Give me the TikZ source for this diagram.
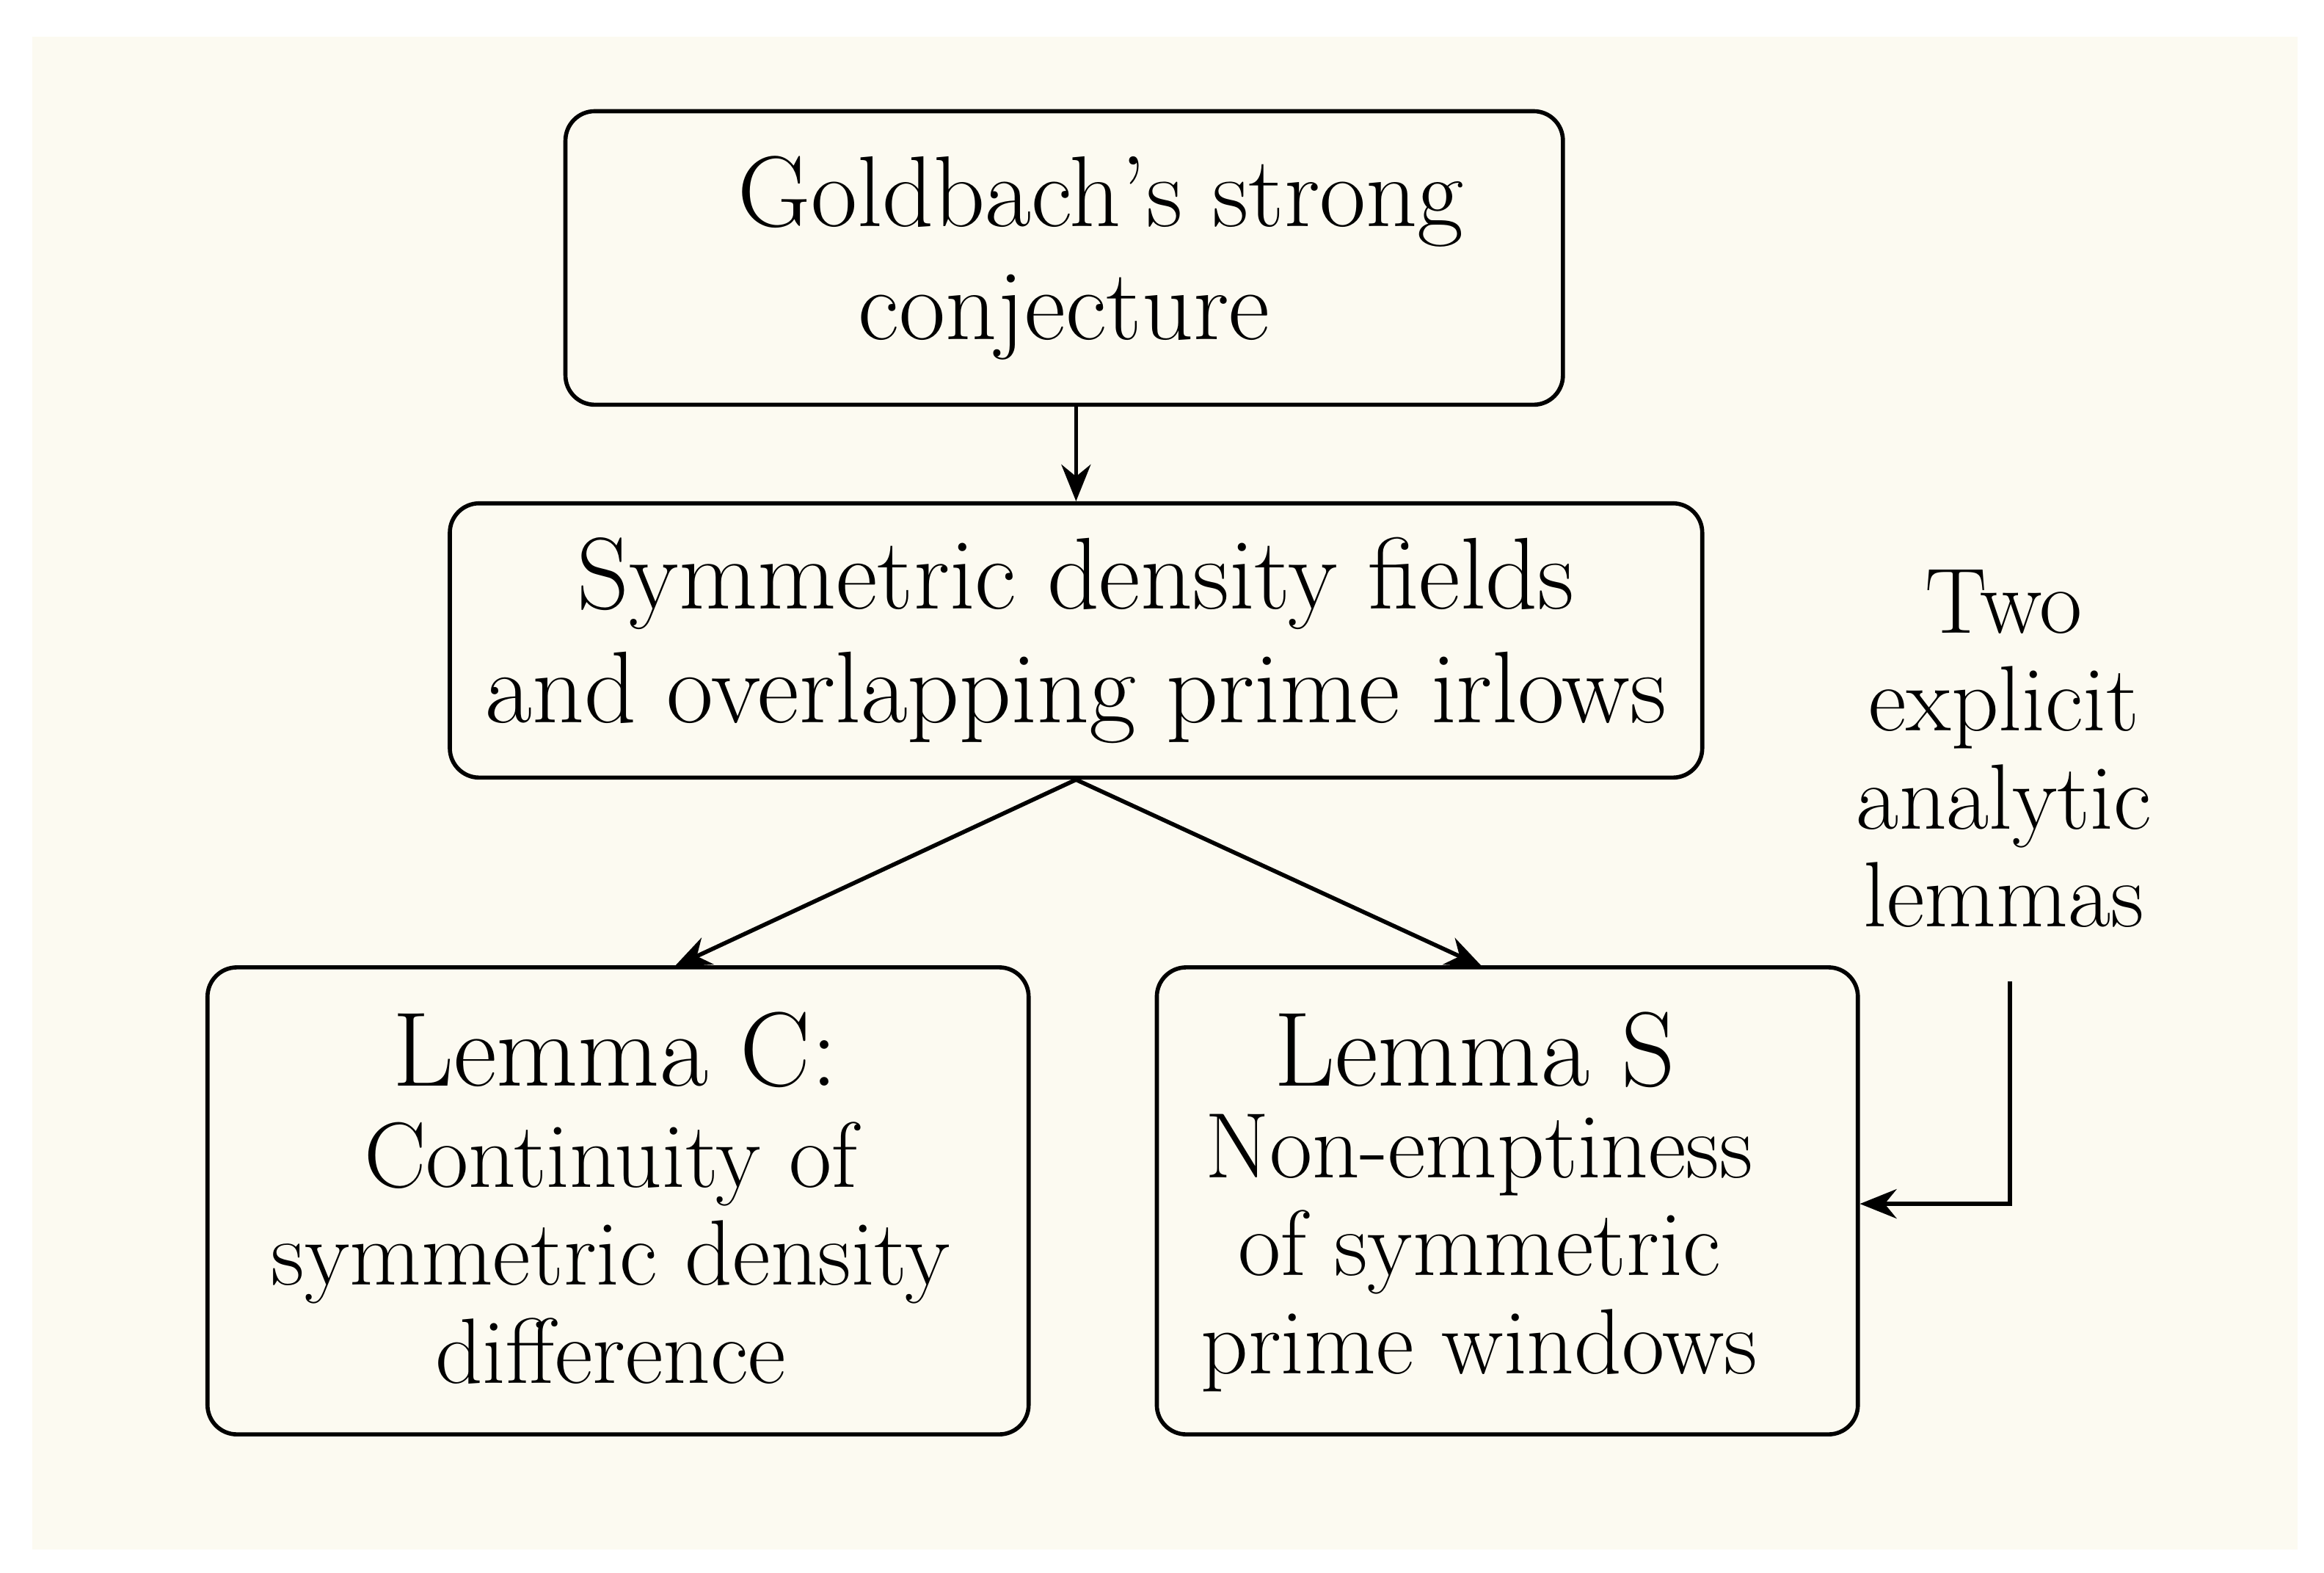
\documentclass[tikz,border=0pt]{standalone}
\usepackage{xcolor}
\usetikzlibrary{arrows.meta}
\definecolor{bg}{HTML}{FCFAF1}
\begin{document}
\begin{tikzpicture}[x=0.202mm,y=-0.202mm,
  box/.style={draw,line width=1.6pt,rounded corners=4mm,fill=bg,inner sep=0pt,align=center},
  arr/.style={line width=1.6pt,-{Stealth[length=5mm,width=4mm]}},
  txt/.style={font=\fontsize{36}{38}\selectfont}]
\useasboundingbox (0,0) rectangle (1568,1061);
\fill[white] (0,0) rectangle (1568,1061);
\fill[bg] (22,25) rectangle (1550,1045);
\node[box,minimum width=673*0.202mm,minimum height=198*0.202mm,font=\fontsize{39}{44}\selectfont] (top) at (718,174) {\hspace*{1cm}Goldbach's strong\\conjecture};
\node[box,minimum width=845*0.202mm,minimum height=185*0.202mm,font=\fontsize{39.5}{44}\selectfont] (mid) at (726,432) {Symmetric density fields\\and overlapping prime irlows};
\node[box,minimum width=554*0.202mm,minimum height=315*0.202mm] (lc) at (417,810) {};
\node[box,minimum width=473*0.202mm,minimum height=315*0.202mm] (ls) at (1017,810) {};
\node[font=\fontsize{41}{44}\selectfont] (lch) at (415,708) {Lemma C:};
\node[txt,align=center] (lcb) at (412,845) {Continuity of\\symmetric density\\difference};
\node[font=\fontsize{41}{44}\selectfont] (lsh) at (995,708) {Lemma S};
\node[txt,align=center] (lsb) at (998,845) {Non-emptiness\\of symmetric\\prime windows};
\node[txt,align=center] (two) at (1352,505) {Two\\explicit\\analytic\\lemmas};
\coordinate (c1) at (1356,662);
\coordinate (c2) at (1356,812);
\draw[arr] (top.south -| mid.north) -- (mid.north);
\draw[arr] (mid.south) -- (455,652);
\draw[arr] (mid.south) -- (1000,652);
\draw[arr,line join=miter] (c1) -- (c2) -- (ls.east |- c2);
\end{tikzpicture}
\end{document}
